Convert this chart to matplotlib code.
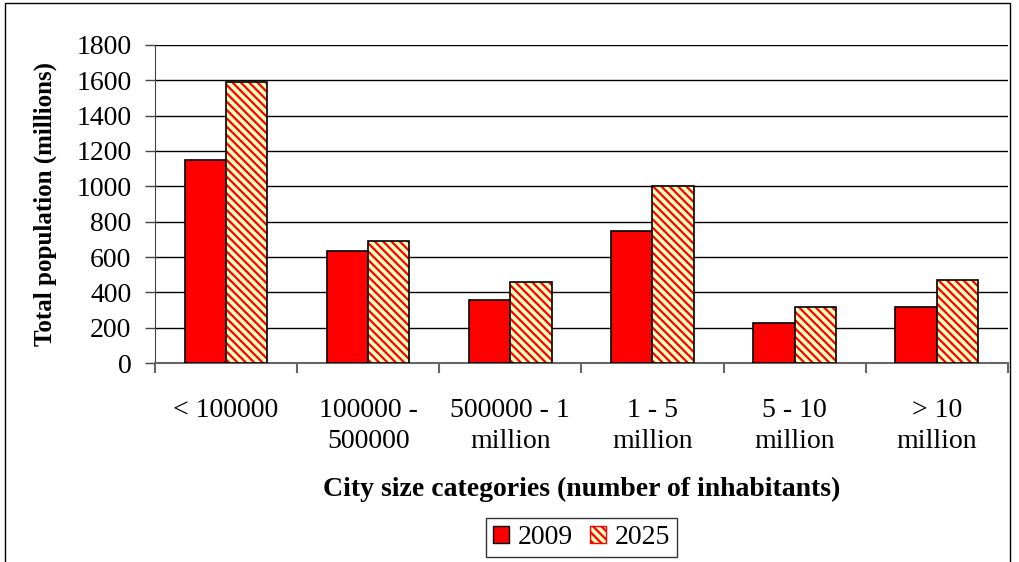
import matplotlib
matplotlib.use('Agg')
import numpy as np
import matplotlib.pyplot as plt
from matplotlib.patches import Rectangle, Patch

# data
categories = ['< 100000', '100000 -\n500000', '500000 - 1\nmillion', '1 - 5\nmillion',
              '5 - 10\nmillion', '> 10\nmillion']
pop_2009 = [1150, 635, 355, 750, 225, 315]
pop_2025 = [1590, 690, 460, 1000, 315, 470]
yticks = [0, 200, 400, 600, 800, 1000, 1200, 1400, 1600, 1800]

plt.rcParams['font.family'] = ['Liberation Serif', 'DejaVu Serif']
plt.rcParams['hatch.linewidth'] = 1.6
plt.rcParams['hatch.color'] = 'red'

fig = plt.figure(figsize=(10.2, 5.62), dpi=100)
ax = fig.add_axes([0.152, 0.354, 0.836, 0.566])

x = np.arange(len(categories))
w = 0.29
ax.bar(x - w / 2, pop_2009, w, color='red', edgecolor='black', linewidth=1.2, zorder=3)
ax.bar(x + w / 2, pop_2025, w, color='#ffffc0', edgecolor='red', hatch='\\\\\\\\',
       linewidth=0, zorder=3)
ax.bar(x + w / 2, pop_2025, w, fill=False, edgecolor='black', linewidth=1.2, zorder=4)

ax.set_xlim(-0.5, len(categories) - 0.5)
ax.set_ylim(0, 1800)
ax.set_yticks(yticks)
ax.yaxis.grid(True, color='black', linewidth=1)
ax.set_axisbelow(True)
ax.tick_params(axis='y', labelsize=20, direction='out', length=7, width=1, color='#444444', pad=10)

# boundaries as ticks, labels at centers
ax.set_xticks(np.arange(len(categories) + 1) - 0.5)
ax.set_xticklabels([])
ax.set_xticks(x, minor=True)
ax.set_xticklabels(categories, minor=True, fontsize=20, linespacing=1.35)
ax.tick_params(axis='x', which='major', direction='out', length=7, width=1.5, color='#666666')
ax.tick_params(axis='x', which='minor', length=0, pad=25)

for s in ['top', 'right']:
    ax.spines[s].set_visible(False)
ax.spines['left'].set_color('#444444')
ax.spines['bottom'].set_color('#666666')
ax.spines['bottom'].set_linewidth(1.5)

ax.set_ylabel('Total population (millions)', fontsize=18, fontweight='bold', labelpad=14)
fig.text(0.57, 0.13, 'City size categories (number of inhabitants)', fontsize=20,
         fontweight='bold', ha='center', va='center')

handles = [Patch(facecolor='red', edgecolor='black', label='2009'),
           Patch(facecolor='#ffffc0', edgecolor='red', hatch='\\\\\\\\', label='2025')]
leg = fig.legend(handles=handles, loc='center', bbox_to_anchor=(0.57, 0.043), ncol=2,
                 fontsize=20, frameon=True, fancybox=False, handlelength=0.6,
                 handleheight=0.6, handletextpad=0.3, columnspacing=0.6,
                 borderpad=0.25, edgecolor='black')
leg.get_frame().set_linewidth(1)

fig.patches.append(Rectangle((5 / 1020, -0.1), 1005 / 1020, 1.1 - 3 / 562,
                             transform=fig.transFigure, fill=False,
                             edgecolor='black', linewidth=1))

fig.savefig('out.png', dpi=100)
